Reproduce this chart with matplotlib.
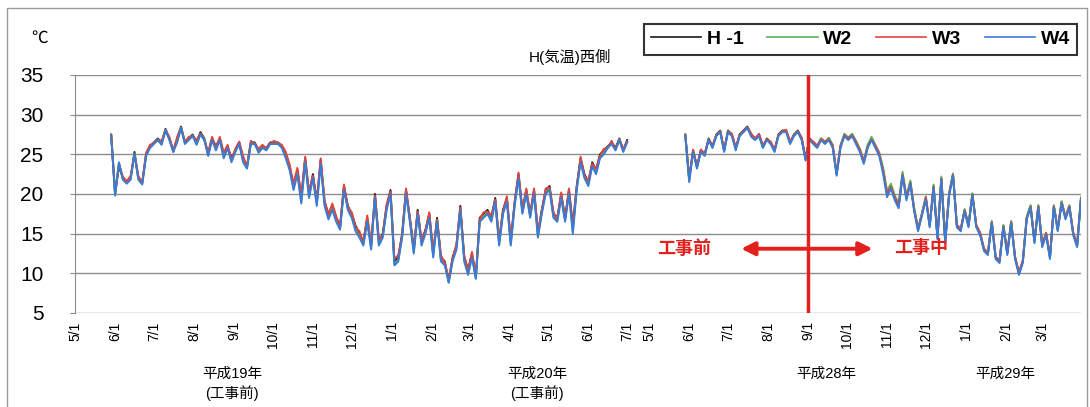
import numpy as np
import pandas as pd
import matplotlib
matplotlib.use("Agg")
import matplotlib.pyplot as plt
from matplotlib.patches import Rectangle
from matplotlib.lines import Line2D

# category axis: two observation periods of daily dates
period_ranges = [("2007-05-01", "2008-07-17"), ("2016-05-01", "2017-03-31")]
series_starts = ["2007-05-29", "2016-05-29"]
step_days = 3
split_date = "2016-09-01"

series_names = ["H -1", "W2", "W3", "W4"]
series_colors = ["#1a1a1a", "#58b35a", "#e0443e", "#3a7bd5"]

h1_a = [float(v) for v in """
27.5 20.0 23.5 22.0 21.5 22.0 25.3 22.0 21.5 25.0
26.0 26.5 27.0 26.5 28.2 27.0 25.5 27.0 28.5 26.5
27.0 27.5 26.5 27.8 27.0 25.0 27.0 26.0 27.0 25.0
26.0 24.5 25.5 26.5 24.5 23.5 26.5 26.5 25.5 26.0
25.8 26.5 26.5 26.5 26.0 25.0 23.5 21.0 23.0 19.5
24.5 20.0 22.5 19.0 24.3 19.0 17.5 18.5 17.0 16.0
21.0 18.5 17.5 16.0 15.0 14.0 17.0 13.5 20.0 14.0
15.0 18.5 20.5 11.5 12.0 15.0 20.5 17.0 13.0 18.0
14.0 15.5 17.5 12.5 17.0 12.0 11.5 9.0 12.0 13.5
18.5 12.0 10.5 12.5 9.5 17.0 17.5 18.0 17.0 19.5
14.0 18.0 19.5 14.0 19.0 22.5 18.0 20.5 17.5 20.5
15.0 18.0 20.5 21.0 17.5 17.0 20.0 17.0 20.5 16.0
21.0 24.5 22.5 21.5 24.0 23.0 25.0 25.5 26.0 26.5
25.8 27.0 25.5 26.8
""".split()]

w2_a = [float(v) for v in """
27.4 19.9 23.9 21.9 21.4 21.9 25.1 21.9 21.3 24.9
25.9 26.4 26.9 26.3 28.1 26.9 25.4 26.7 28.4 26.4
26.9 27.4 26.3 27.6 26.9 24.9 26.9 25.7 26.9 24.7
25.9 24.2 25.4 26.4 24.2 23.3 26.4 26.4 25.3 25.9
25.6 26.4 26.4 26.4 25.9 24.7 23.2 20.7 22.7 19.1
24.2 19.7 22.2 18.7 24.0 18.7 17.1 18.2 16.7 15.7
20.7 18.2 17.2 15.6 14.7 13.7 16.7 13.2 19.7 13.7
14.7 18.2 20.2 11.2 11.7 14.7 20.2 16.7 12.7 17.7
13.7 15.2 17.2 12.2 16.7 11.7 11.2 8.9 11.7 13.2
18.2 11.7 10.0 12.2 9.4 16.7 17.2 17.7 16.7 19.2
13.7 17.7 19.2 13.7 18.7 22.2 17.7 20.2 17.2 20.2
14.7 17.7 20.2 20.7 17.2 16.7 19.7 16.7 20.2 15.3
20.7 24.2 22.2 21.2 23.7 22.7 24.7 25.2 25.9 26.4
25.6 26.9 25.4 26.6
""".split()]

w3_a = [float(v) for v in """
27.4 20.2 23.8 22.2 21.6 22.3 25.0 22.3 21.4 25.2
26.2 26.4 26.8 26.7 28.0 27.2 25.3 27.2 28.3 26.6
27.2 27.3 26.8 27.6 26.8 25.3 27.2 25.8 27.2 25.2
26.2 24.3 25.7 26.6 24.8 23.4 26.7 26.3 25.7 26.2
25.7 26.4 26.7 26.4 26.2 25.3 23.7 21.3 23.3 19.8
24.7 20.3 22.3 19.3 24.5 19.2 17.3 18.8 17.2 15.8
21.2 18.3 17.7 15.8 15.3 13.8 17.3 13.7 19.8 14.3
14.8 18.7 20.3 11.8 12.3 14.8 20.7 16.8 13.2 17.8
14.2 15.3 17.7 12.7 16.8 12.3 11.3 9.3 11.8 13.7
18.3 12.3 10.3 12.7 9.8 16.8 17.7 17.8 17.3 19.3
14.3 17.8 19.7 14.3 18.8 22.7 17.8 20.7 17.3 20.7
15.3 17.8 20.7 20.8 17.7 16.8 20.2 16.8 20.7 15.8
20.8 24.7 22.3 21.7 23.8 23.2 24.8 25.7 25.8 26.7
25.6 26.8 25.7 26.6
""".split()]

w4_a = [float(v) for v in """
27.3 19.8 24.0 21.8 21.3 21.8 25.0 21.8 21.2 24.8
25.8 26.3 26.8 26.2 28.0 26.8 25.3 26.5 28.3 26.3
26.8 27.3 26.2 27.5 26.8 24.8 26.8 25.5 26.8 24.5
25.8 24.0 25.3 26.3 24.0 23.2 26.3 26.3 25.2 25.8
25.5 26.3 26.3 26.3 25.8 24.5 23.0 20.5 22.5 18.8
24.0 19.5 22.0 18.5 23.8 18.5 16.8 18.0 16.5 15.5
20.5 18.0 17.0 15.3 14.5 13.5 16.5 13.0 19.5 13.5
14.5 18.0 20.0 11.0 11.5 14.5 20.0 16.5 12.5 17.5
13.5 15.0 17.0 12.0 16.5 11.5 11.0 8.8 11.5 13.0
18.0 11.5 9.8 12.0 9.3 16.5 17.0 17.5 16.5 19.0
13.5 17.5 19.0 13.5 18.5 22.0 17.5 20.0 17.0 20.0
14.5 17.5 20.0 20.5 17.0 16.5 19.5 16.5 20.0 15.0
20.5 24.0 22.0 21.0 23.5 22.5 24.5 25.0 25.8 26.3
25.5 26.8 25.3 26.5
""".split()]

h1_b = [float(v) for v in """
27.5 22.0 25.5 23.5 25.5 25.0 27.0 26.0 27.5 28.0
25.5 28.0 27.5 25.8 27.5 28.0 28.5 27.5 27.0 27.5
26.0 27.0 26.5 25.5 27.5 28.0 28.0 26.5 27.5 28.0
27.0 24.5 27.0 26.5 26.0 27.0 26.5 27.0 26.0 22.5
26.0 27.5 27.0 27.5 26.5 25.5 24.0 26.0 27.0 26.0
25.0 23.0 20.0 21.0 19.5 18.5 22.5 19.5 21.5 18.0
15.5 17.5 19.5 16.0 21.0 14.5 22.0 14.0 20.0 22.5
16.0 15.5 18.0 16.0 20.0 16.0 15.0 13.0 12.5 16.5
12.0 11.5 16.0 12.5 16.5 12.0 10.0 11.5 17.0 18.5
14.0 18.5 13.5 15.0 12.0 18.5 15.5 19.0 17.0 18.5
15.0 13.5 19.5
""".split()]

w2_b = [float(v) for v in """
27.5 21.7 25.4 23.4 25.4 24.9 26.9 25.9 27.4 27.9
25.4 27.9 27.4 25.7 27.4 27.9 28.4 27.4 26.9 27.4
25.9 26.9 26.4 25.4 27.4 27.9 27.9 26.4 27.4 27.9
26.9 24.4 26.9 26.4 25.9 27.0 26.6 27.1 26.2 22.6
26.1 27.6 27.1 27.6 26.7 25.7 24.2 26.2 27.2 26.2
25.2 23.3 20.4 21.3 19.8 18.8 22.8 19.7 21.7 18.2
15.7 17.6 19.7 16.1 21.2 14.6 22.2 14.1 20.1 22.6
16.1 15.6 18.1 16.1 20.1 16.1 15.1 13.1 12.6 16.6
12.1 11.6 16.1 12.6 16.6 12.1 10.1 11.6 17.1 18.6
14.1 18.6 13.6 15.1 12.1 18.6 15.6 19.1 17.1 18.6
15.1 13.6 19.6
""".split()]

w3_b = [float(v) for v in """
27.4 21.8 25.6 23.4 25.6 25.1 26.9 26.1 27.4 27.9
25.6 27.9 27.6 25.9 27.4 27.9 28.4 27.6 26.9 27.6
26.1 26.9 26.6 25.6 27.4 27.9 28.1 26.6 27.4 27.9
27.1 24.4 26.9 26.6 26.1 26.9 26.6 26.9 26.1 22.6
26.1 27.4 27.1 27.4 26.6 25.6 24.1 25.9 26.9 26.1
25.1 22.9 20.1 20.9 19.6 18.6 22.4 19.6 21.4 18.1
15.6 17.4 19.6 16.1 20.9 14.6 21.9 14.1 19.9 22.4
16.1 15.6 17.9 16.1 19.9 16.1 15.1 13.1 12.6 16.4
12.1 11.6 15.9 12.6 16.4 12.1 10.1 11.6 16.9 18.4
14.1 18.4 13.6 15.1 12.1 18.4 15.6 18.9 17.1 18.4
15.1 13.6 19.4
""".split()]

w4_b = [float(v) for v in """
27.3 21.5 25.3 23.2 25.3 24.8 26.8 25.8 27.3 27.8
25.3 27.8 27.3 25.5 27.3 27.8 28.3 27.2 26.8 27.3
25.8 26.8 26.3 25.3 27.3 27.8 27.8 26.3 27.3 27.8
26.8 24.2 26.8 26.3 25.8 26.8 26.3 26.8 25.8 22.3
25.8 27.3 26.8 27.3 26.3 25.3 23.8 25.8 26.8 25.8
24.8 22.5 19.6 20.7 19.2 18.2 22.3 19.2 21.3 17.8
15.3 17.3 19.3 15.8 20.8 14.3 21.8 13.8 19.8 22.3
15.8 15.3 17.8 15.8 19.8 15.8 14.8 12.8 12.3 16.3
11.8 11.3 15.8 12.3 16.3 11.8 9.8 11.3 16.8 18.3
13.8 18.3 13.3 14.8 11.8 18.3 15.3 18.8 16.8 18.3
14.8 13.3 19.3
""".split()]

series = [(h1_a, h1_b), (w2_a, w2_b), (w3_a, w3_b), (w4_a, w4_b)]

year_labels = ["平成19年\n(工事前)", "平成20年\n(工事前)", "平成28年", "平成29年"]

plt.rcParams['font.family'] = ['Liberation Sans Narrow', 'Liberation Sans', 'Noto Sans CJK JP']

W, H = 1090, 407
fig = plt.figure(figsize=(W / 100, H / 100), dpi=100)
ax = fig.add_axes([75 / W, 1 - 313 / H, (1081 - 75) / W, (313 - 75) / H])

axis_dates = pd.DatetimeIndex(np.concatenate(
    [pd.date_range(a, b).values for a, b in period_ranges]))

for (vals_a, vals_b), name, color in zip(series, series_names, series_colors):
    for start, vals in zip(series_starts, (vals_a, vals_b)):
        dates = pd.date_range(start, periods=len(vals), freq=f"{step_days}D")
        pos = axis_dates.get_indexer(dates)
        ok = pos >= 0
        ax.plot(pos[ok], np.array(vals)[ok], color=color, lw=1.4)

grid_c = "#8c8c8c"
ax.set_xlim(0, len(axis_dates) - 1)
ax.set_ylim(5, 35)
ax.set_yticks(range(5, 36, 5))
ax.yaxis.grid(True, color=grid_c, lw=1)
ax.set_axisbelow(True)
for s in ["top", "right", "bottom"]:
    ax.spines[s].set_visible(False)
ax.spines["left"].set_color(grid_c)
ax.tick_params(axis="y", length=3.6, pad=19, labelsize=15, color=grid_c)

tick_pos = np.where(axis_dates.day == 1)[0]
ax.set_xticks(tick_pos)
ax.set_xticklabels([f"{d.month}/1" for d in axis_dates[tick_pos]], rotation=90, fontsize=10)
ax.tick_params(axis="x", length=0, pad=6)

# construction start marker
red = "#e3211c"
sep = axis_dates.get_loc(pd.Timestamp(split_date))
ax.axvline(sep, color=red, lw=2.5, zorder=5)
ax.annotate("", xy=(sep - 54, 13.1), xytext=(sep + 52, 13.1),
            arrowprops=dict(arrowstyle="<|-|>", color=red, lw=2.8, mutation_scale=20))
ax.text(sep - 96, 13.1, "工事前", color=red, fontsize=13, fontweight="bold",
        ha="center", va="center")
ax.text(sep + 87, 13.1, "工事中", color=red, fontsize=13, fontweight="bold",
        ha="center", va="center")

fig.text(40 / W, 1 - 38 / H, "℃", fontsize=12, ha="center", va="center")
fig.text(570 / W, 1 - 57 / H, "H(気温)西側", fontsize=11, ha="center", va="center")

handles = [Line2D([], [], color=c, lw=1.2) for c in series_colors]
leg = fig.legend(handles, series_names, loc="upper right",
                 bbox_to_anchor=(1087 / W, 1 - 14 / H), ncol=4, fancybox=False,
                 edgecolor="black", prop=dict(weight="bold", size=14),
                 handlelength=2.6, handletextpad=0.3, columnspacing=1.2, borderpad=0.35)
leg.get_frame().set_linewidth(1.5)

for label, xc in zip(year_labels, [232, 537, 826, 1005]):
    fig.text(xc / W, 1 - 367 / H, label, fontsize=10.5, ha="center", va="top",
             linespacing=1.3)

fig.patches.append(Rectangle((7 / W, -0.05), (1087 - 7) / W, 1 - 8 / H + 0.05,
                             transform=fig.transFigure, fill=False,
                             edgecolor="#9a9a9a", lw=1))

fig.savefig("out.png", dpi=100)
